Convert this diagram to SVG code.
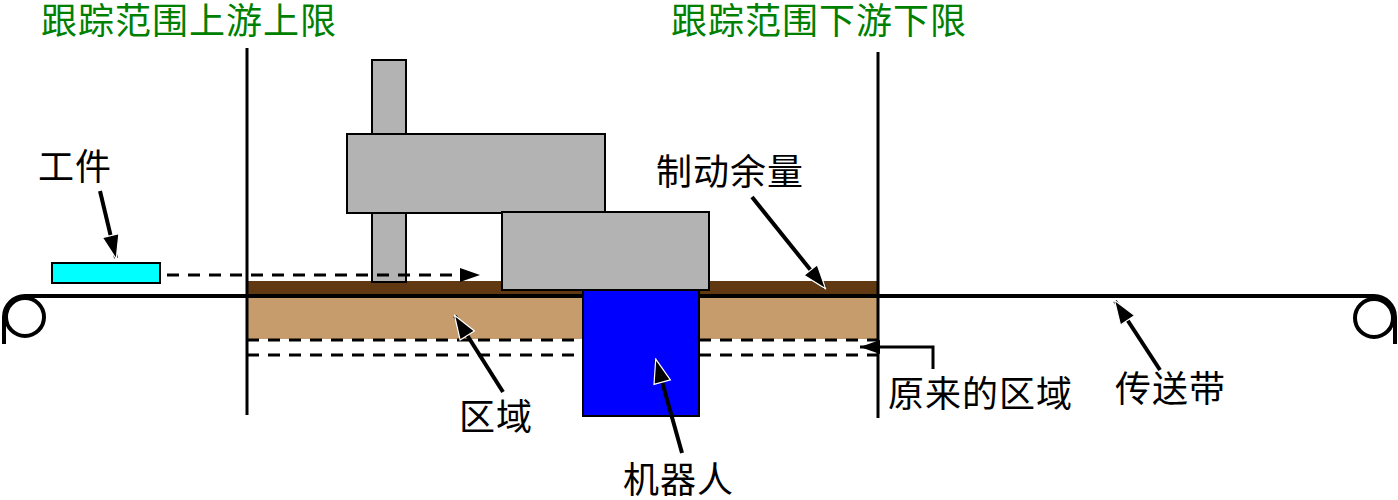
<svg xmlns="http://www.w3.org/2000/svg" width="1398" height="500" viewBox="0 0 1398 500">
<style>
.t{font-family:"Noto Sans CJK SC","Noto Sans",sans-serif;font-size:36px;fill:#000;letter-spacing:1px}
.g{fill:#008000}
.part{fill:#b3b3b3;stroke:#000;stroke-width:2}
.lbl{stroke:#000;stroke-width:4;fill:none}
.dash{stroke:#000;stroke-width:3;stroke-dasharray:12 9;fill:none}
.lim{stroke:#000;stroke-width:3}
</style>
<defs>
<marker id="ah" viewBox="0 0 26 20" refX="24" refY="10" markerWidth="26" markerHeight="20" markerUnits="userSpaceOnUse" orient="auto">
<path d="M1 1.5 L25 10 L1 18.5 Z" fill="#000" stroke="#fff" stroke-width="1.2"/>
</marker>
<marker id="ah2" viewBox="0 0 22 16" refX="21" refY="8" markerWidth="22" markerHeight="16" markerUnits="userSpaceOnUse" orient="auto">
<path d="M1 1 L21 8 L1 15 Z" fill="#000"/>
</marker>
</defs>
<rect width="1398" height="500" fill="#fff"/>
<g id="zone">
<rect x="247" y="281" width="631" height="15" fill="#603913"/>
<rect x="247" y="296" width="631" height="43" fill="#c69c6d"/>
</g>
<g id="belt">
<circle cx="25" cy="317" r="19" fill="none" stroke="#000" stroke-width="4"/>
<circle cx="1374" cy="318" r="19" fill="none" stroke="#000" stroke-width="4"/>
<path d="M4 344 L4 317 A21 21 0 0 1 25 296 L1374 296 A21 21 0 0 1 1395 317 L1395 344" fill="none" stroke="#000" stroke-width="4"/>
</g>
<g id="limits">
<line class="lim" x1="247" y1="48" x2="247" y2="415"/>
<line class="lim" x1="878" y1="52" x2="878" y2="342"/>
<line class="lim" x1="878" y1="352" x2="878" y2="418"/>
</g>
<g id="workpiece">
<rect x="52" y="263" width="108" height="20" fill="#00ffff" stroke="#000" stroke-width="2"/>
</g>
<g id="robot">
<rect class="part" x="372" y="60" width="34" height="222"/>
<rect class="part" x="347" y="134" width="258" height="79"/>
<rect class="part" x="502" y="212" width="207" height="78"/>
<rect x="583" y="290" width="116" height="126" fill="#0000ff" stroke="#000" stroke-width="2"/>
</g>
<g id="connectors">
<line class="dash" x1="167" y1="275" x2="480" y2="275" marker-end="url(#ah2)"/>
<line class="dash" x1="247" y1="340" x2="583" y2="340"/>
<line class="dash" x1="699" y1="340" x2="878" y2="340"/>
<line class="dash" x1="247" y1="355" x2="583" y2="355"/>
<line class="dash" x1="699" y1="355" x2="878" y2="355"/>
<polyline points="933,369 933,347 860,347" fill="none" stroke="#000" stroke-width="3" marker-end="url(#ah2)"/>
<line class="lbl" x1="100" y1="191" x2="116" y2="258" marker-end="url(#ah)"/>
<line class="lbl" x1="752" y1="197" x2="825" y2="288" marker-end="url(#ah)"/>
<line class="lbl" x1="503" y1="392" x2="455" y2="316" marker-end="url(#ah)"/>
<line class="lbl" x1="682" y1="453" x2="656" y2="360" marker-end="url(#ah)"/>
<line class="lbl" x1="1160" y1="370" x2="1115" y2="301" marker-end="url(#ah)"/>
</g>
<g id="labels">
<text class="t g" x="41" y="34">跟踪范围上游上限</text>
<text class="t g" x="671" y="34">跟踪范围下游下限</text>
<text class="t" x="38" y="180">工件</text>
<text class="t" x="656" y="185">制动余量</text>
<text class="t" x="459" y="430">区域</text>
<text class="t" x="623" y="493">机器人</text>
<text class="t" x="888" y="407">原来的区域</text>
<text class="t" x="1115" y="402">传送带</text>
</g>
</svg>
